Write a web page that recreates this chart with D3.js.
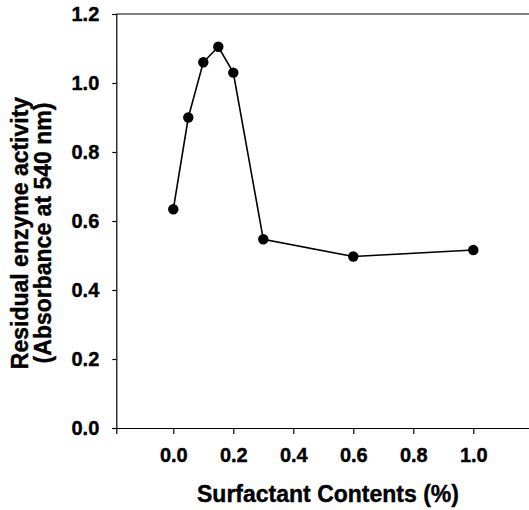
<!DOCTYPE html>
<html>
<head>
<meta charset="utf-8">
<script src="https://cdn.jsdelivr.net/npm/d3@7"></script>
<style>
  body { margin: 0; background: #fff; }
  text { font-family: "Liberation Sans", Arial, sans-serif; font-weight: bold; fill: #000; }
</style>
</head>
<body>
<div id="chart"></div>
<script>
// surfactant content (%) vs residual activity
const contents = [0, 0.05, 0.1, 0.15, 0.2, 0.3, 0.6, 1.0];
const activity = [0.634, 0.90, 1.06, 1.105, 1.03, 0.547, 0.497, 0.516];
const xTicks = [0, 0.2, 0.4, 0.6, 0.8, 1.0];
const yTicks = [0, 0.2, 0.4, 0.6, 0.8, 1.0, 1.2];

const width = 529, height = 510;

const svg = d3.select("#chart")
  .append("svg")
  .attr("width", width)
  .attr("height", height);

const x = d3.scaleLinear()
  .domain([-0.19, 1.2])
  .range([116.3, 533.3]);

const y = d3.scaleLinear()
  .domain([0, 1.2])
  .range([428, 14]);

// frame top
svg.append("line")
  .attr("x1", x(-0.19)).attr("x2", x(1.2))
  .attr("y1", y(1.2)).attr("y2", y(1.2))
  .attr("stroke", "#000").attr("stroke-width", 1.2);

const xAxis = svg.append("g")
  .attr("transform", `translate(0,${y(0)})`)
  .call(d3.axisBottom(x).tickValues(xTicks).tickFormat(d3.format(".1f")).tickSize(6).tickPadding(14));

const yAxis = svg.append("g")
  .attr("transform", `translate(${x(-0.19)},0)`)
  .call(d3.axisLeft(y).tickValues(yTicks).tickFormat(d3.format(".1f")).tickSize(4).tickPadding(13));

[xAxis, yAxis].forEach(g => {
  g.select(".domain").attr("stroke", "#000").attr("stroke-width", 1.2);
  g.selectAll(".tick line").attr("stroke", "#000").attr("stroke-width", 1.2);
  g.selectAll(".tick text")
    .attr("font-size", 20)
    .attr("font-family", "Liberation Sans, Arial, sans-serif")
    .attr("font-weight", "bold")
    .attr("fill", "#000")
    .attr("stroke", "#000")
    .attr("stroke-width", 0.4);
});

const line = d3.line()
  .x((d, i) => x(contents[i]))
  .y(d => y(d));

svg.append("path")
  .datum(activity)
  .attr("d", line)
  .attr("fill", "none")
  .attr("stroke", "#000")
  .attr("stroke-width", 1.6);

svg.append("g")
  .selectAll("circle")
  .data(activity)
  .join("circle")
  .attr("cx", (d, i) => x(contents[i]))
  .attr("cy", d => y(d))
  .attr("r", 5.2)
  .attr("fill", "#000");

// axis titles
svg.append("text")
  .attr("x", 328)
  .attr("y", 502)
  .attr("text-anchor", "middle")
  .attr("font-size", 23)
  .attr("stroke", "#000")
  .attr("stroke-width", 0.4)
  .text("Surfactant Contents (%)");

const yl = svg.append("text")
  .attr("transform", "translate(28,233) rotate(-90)")
  .attr("text-anchor", "middle")
  .attr("font-size", 23)
  .attr("stroke", "#000")
  .attr("stroke-width", 0.4);
yl.append("tspan").attr("x", 0).attr("y", 0).text("Residual enzyme activity");
yl.append("tspan").attr("x", 0).attr("y", 23).text("(Absorbance at 540 nm)");
</script>
</body>
</html>
